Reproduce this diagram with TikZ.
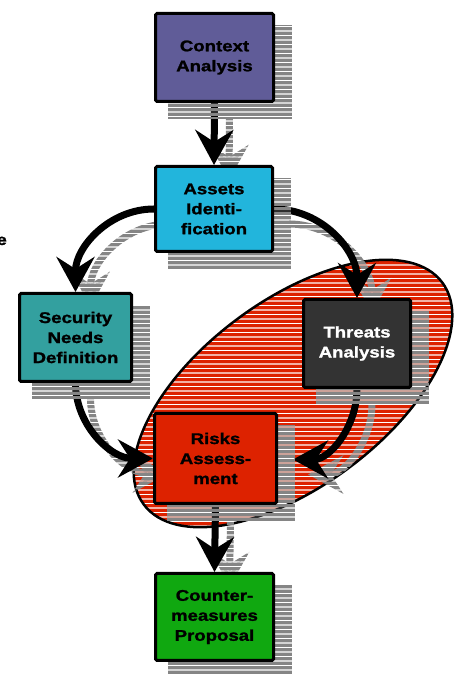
\documentclass[tikz,border=0pt]{standalone}
\usepackage{fontspec}
\setmainfont{Liberation Sans}
\newfontfamily\boxfont{Liberation Sans}[FakeStretch=1.2, BoldFeatures={FakeBold=1.3}]
\usetikzlibrary{arrows.meta,calc}
\definecolor{ctxc}{RGB}{96,92,152}
\definecolor{astc}{RGB}{34,181,220}
\definecolor{secc}{RGB}{51,160,159}
\definecolor{thrc}{RGB}{51,51,51}
\definecolor{rskc}{RGB}{221,34,0}
\definecolor{cntc}{RGB}{16,168,16}
\definecolor{shc}{RGB}{133,133,133}
\pgfdeclarelayer{bg}
\pgfsetlayers{bg,main}
\newcommand\stripclip{\clip \foreach \k in {0,...,150} {(-10,\k*4.5) rectangle (480,\k*4.5+3.3)};}
\tikzset{
  box/.style={draw=black, line width=3pt, rounded corners=1.5pt, inner sep=0pt,
    align=center, font=\boxfont\bfseries\fontsize{15.5}{20}\selectfont},
  flow/.style={line width=7pt, -{Stealth[length=35pt,width=38pt,inset=12pt]}},
}
\newcommand\boxshadow[1]{%
  \fill[shc] ($(#1.south west)+(13.5,-16.5)$) rectangle ($(#1.north east)+(16.5,-13.5)$);}
\newcommand\allarrows[1]{%
  \draw[flow,#1] (ctx.south) -- (ast.north);
  \draw[flow,#1] (ast.west) to[out=180,in=90] (sec.north);
  \draw[flow,#1] (ast.east) to[out=0,in=90] (thr.north);
  \draw[flow,#1] (sec.south) to[out=-90,in=180] (rsk.west);
  \draw[flow,#1] (thr.south) to[out=-90,in=0] ($(rsk.east)+(15,-1)$);
  \draw[flow,#1] (rsk.south) -- (cnt.north);
}
\begin{document}
\begin{tikzpicture}[x=1pt,y=1pt]
\useasboundingbox (0,0) rectangle (461,674);
% boxes
\node[box, fill=ctxc, minimum width=118, minimum height=88] (ctx) at (214.5,616.5) {Context\\Analysis};
\node[box, fill=astc, minimum width=117, minimum height=85] (ast) at (214,465) {Assets\\Identi-\\fication};
\node[box, fill=secc, minimum width=112, minimum height=88] (sec) at (75.5,336.5) {Security\\Needs\\Definition};
\node[box, fill=thrc, text=white, minimum width=107, minimum height=88] (thr) at (357,330.5) {Threats\\Analysis};
\node[box, fill=rskc, minimum width=122, minimum height=90] (rsk) at (215.5,215.5) {Risks\\Assess-\\ment};
\node[box, fill=cntc, minimum width=118, minimum height=87] (cnt) at (214.5,57) {Counter-\\measures\\Proposal};
\node[anchor=base west, font=\boxfont\bfseries\fontsize{15.5}{18}\selectfont] (frag) at (-7,429) {e};
\begin{pgfonlayer}{bg}
  % ellipse
  \begin{scope}
    \stripclip
    \fill[rskc, rotate around={36.6:(293,280.5)}] (293,280.5) ellipse (186 and 93);
  \end{scope}
  \draw[line width=2.5pt, rotate around={36.6:(293,280.5)}] (293,280.5) ellipse (186 and 93);
  % arrow shadows
  \begin{scope}
    \stripclip
    \begin{scope}[transform canvas={shift={(15pt,-15pt)}}]
      \allarrows{shc}
    \end{scope}
  \end{scope}
  % black arrows
  \allarrows{black}
  % box shadows
  \begin{scope}
    \stripclip
    \boxshadow{ctx}
    \boxshadow{ast}
    \boxshadow{sec}
    \boxshadow{thr}
    \boxshadow{rsk}
    \boxshadow{cnt}
  \end{scope}
\end{pgfonlayer}
\end{tikzpicture}
\end{document}
